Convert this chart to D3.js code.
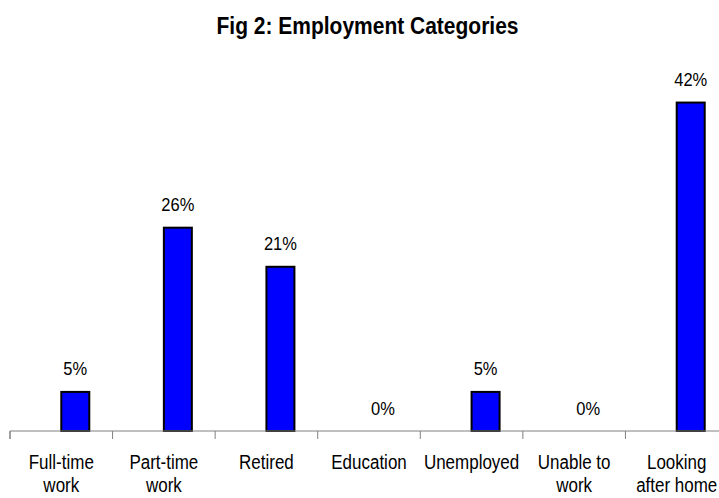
<!DOCTYPE html>
<html>
<head>
<meta charset="utf-8">
<script src="https://cdn.jsdelivr.net/npm/d3@7"></script>
<style>
  html, body { margin: 0; padding: 0; background: #fff; }
  svg { display: block; }
  text { font-family: "Liberation Sans", Arial, sans-serif; fill: #000; }
</style>
</head>
<body>
<svg id="chart" width="719" height="498"></svg>
<script>
// Share of respondents in each employment category (%)
const categories = [
  ["Full-time", "work"],
  ["Part-time", "work"],
  ["Retired"],
  ["Education"],
  ["Unemployed"],
  ["Unable to", "work"],
  ["Looking", "after home"]
];
const values = [5, 26, 21, 0, 5, 0, 42];
const valueLabels = ["5%", "26%", "21%", "0%", "5%", "0%", "42%"];
const title = "Fig 2: Employment Categories";

const W = 719, H = 498;
const baseY = 431;
const stretch = 1.15; // tall, narrow lettering

const svg = d3.select("#chart");
const keys = categories.map(c => c.join(" "));

const x = d3.scaleBand().domain(keys).range([10, 728]).padding(0);
const y = d3.scaleLinear().domain([0, 50]).range([baseY, 40]);

// Title
svg.append("text")
  .attr("transform", `translate(${W / 2 + 8},34) scale(1,${stretch})`)
  .attr("text-anchor", "middle")
  .style("font-size", "21px")
  .style("font-weight", "bold")
  .text(title);

// Bars sit just right of each category centre
const barW = 28;
const barX = k => x(k) + x.bandwidth() / 2;

svg.append("g").selectAll("rect")
  .data(values.map((v, i) => ({ k: keys[i], v })))
  .join("rect")
  .filter(d => d.v > 0)
  .attr("x", d => barX(d.k))
  .attr("y", d => y(d.v))
  .attr("width", barW)
  .attr("height", d => y(0) - y(d.v))
  .attr("fill", "#0000ff")
  .attr("stroke", "#000")
  .attr("stroke-width", 2);

// Value labels
svg.append("g").selectAll("text")
  .data(values.map((v, i) => ({ k: keys[i], v, t: valueLabels[i] })))
  .join("text")
  .attr("transform", d => `translate(${barX(d.k) + barW / 2},${y(d.v) - 16.5}) scale(1,${stretch})`)
  .attr("text-anchor", "middle")
  .style("font-size", "16.5px")
  .text(d => d.t);

// Category axis
const axis = d3.axisBottom(x).tickSize(8).tickFormat("");
const gx = svg.append("g").attr("transform", `translate(0,${baseY})`).call(axis);
gx.select(".domain").attr("stroke", "#808080").attr("d", `M10,8V0H${W + 20}`);
gx.selectAll(".tick").attr("transform", d => `translate(${x(d)},0)`);
gx.selectAll(".tick line").attr("stroke", "#808080");
// Tick marks sit on band boundaries
gx.selectAll(".tick text").remove();

// Category labels, wrapped over two lines
const lab = svg.append("g").selectAll("g")
  .data(categories)
  .join("g")
  .attr("transform", (c, i) => `translate(${x(keys[i]) + x.bandwidth() / 2},0)`);
lab.selectAll("text")
  .data(c => c)
  .join("text")
  .attr("transform", (t, j) => `translate(0,${469 + j * 23}) scale(1,${stretch})`)
  .attr("text-anchor", "middle")
  .style("font-size", "17px")
  .text(t => t);
</script>
</body>
</html>
